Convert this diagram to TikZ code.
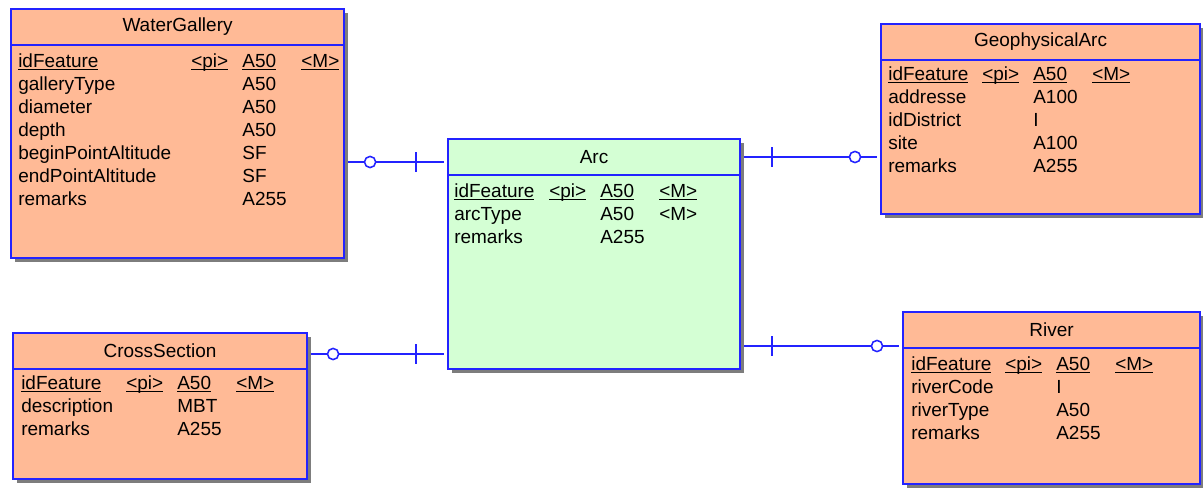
\documentclass[tikz,border=0pt]{standalone}
\usepackage{fontspec}
\setmainfont{Liberation Sans}
\usepackage{xcolor}
\usetikzlibrary{positioning,shadows,decorations.markings}

\definecolor{erblue}{RGB}{35,35,255}
\definecolor{ersalmon}{RGB}{255,186,150}
\definecolor{ergreen}{RGB}{212,255,212}
\definecolor{ershadow}{RGB}{125,125,125}

\newcommand{\ulk}[1]{\underline{\smash{#1}}}

\begin{document}
\begin{tikzpicture}[x=0.025cm, y=-0.025cm,
  font=\fontsize{13.5}{16.4}\selectfont,
  entity/.style={draw=erblue, line width=1.4pt, fill=#1, anchor=north west,
                 inner sep=0pt, outer sep=0pt,
                 drop shadow={shadow xshift=0.09cm, shadow yshift=-0.09cm, fill=ershadow, opacity=1}},
  head/.style={minimum height=0.875cm, inner sep=0pt},
  attrs/.style={anchor=north west, inner sep=0pt},
  hline/.style={draw=erblue, line width=1.4pt},
  rel/.style={draw=erblue, line width=1.1pt, shorten <=0.11cm, shorten >=0.11cm,
              postaction={decorate}, decoration={markings,
                mark=at position 0.65cm with {\draw[erblue, line width=1.1pt, fill=white] (0cm,0cm) circle (0.14cm);},
                mark=at position -0.8cm with {\draw[erblue, line width=1.1pt, shorten <=0pt, shorten >=0pt] (0cm,-0.24cm) -- (0cm,0.24cm);}}}
]
  \useasboundingbox (0,0) rectangle (1203,487);

  % WaterGallery
  \node[entity=ersalmon, minimum width=8.325cm, minimum height=6.225cm] (wg) at (11,9) {};
  \node[head, below=0pt of wg.north] (wgt) {WaterGallery};
  \draw[hline] (wg.west |- wgt.south) -- (wg.east |- wgt.south);
  \node[attrs] (wga) at (18,51) {\begin{tabular}{@{}p{4.325cm}@{}p{1.275cm}@{}p{1.475cm}@{}l@{}}
    \ulk{idFeature} & \ulk{<pi>} & \ulk{A50} & \ulk{<M>}\\
    galleryType & & A50 & \\
    diameter & & A50 & \\
    depth & & A50 & \\
    beginPointAltitude & & SF & \\
    endPointAltitude & & SF & \\
    remarks & & A255 & \\
  \end{tabular}};

  % GeophysicalArc
  \node[entity=ersalmon, minimum width=7.975cm, minimum height=4.75cm] (ga) at (881,24) {};
  \node[head, below=0pt of ga.north] (gat) {GeophysicalArc};
  \draw[hline] (ga.west |- gat.south) -- (ga.east |- gat.south);
  \node[attrs] (gaa) at (888,64) {\begin{tabular}{@{}p{2.35cm}@{}p{1.275cm}@{}p{1.475cm}@{}l@{}}
    \ulk{idFeature} & \ulk{<pi>} & \ulk{A50} & \ulk{<M>}\\
    addresse & & A100 & \\
    idDistrict & & I & \\
    site & & A100 & \\
    remarks & & A255 & \\
  \end{tabular}};

  % Arc
  \node[entity=ergreen, minimum width=7.3cm, minimum height=5.75cm] (arc) at (448,139) {};
  \node[head, below=0pt of arc.north] (arct) {Arc};
  \draw[hline] (arc.west |- arct.south) -- (arc.east |- arct.south);
  \node[attrs] (arca) at (454,181) {\begin{tabular}{@{}p{2.375cm}@{}p{1.275cm}@{}p{1.475cm}@{}l@{}}
    \ulk{idFeature} & \ulk{<pi>} & \ulk{A50} & \ulk{<M>}\\
    arcType & & A50 & <M>\\
    remarks & & A255 & \\
  \end{tabular}};

  % CrossSection
  \node[entity=ersalmon, minimum width=7.35cm, minimum height=3.65cm] (cs) at (13,333) {};
  \node[head, below=0pt of cs.north] (cst) {CrossSection};
  \draw[hline] (cs.west |- cst.south) -- (cs.east |- cst.south);
  \node[attrs] (csa) at (21,373) {\begin{tabular}{@{}p{2.625cm}@{}p{1.275cm}@{}p{1.475cm}@{}l@{}}
    \ulk{idFeature} & \ulk{<pi>} & \ulk{A50} & \ulk{<M>}\\
    description & & MBT & \\
    remarks & & A255 & \\
  \end{tabular}};

  % River
  \node[entity=ersalmon, minimum width=7.425cm, minimum height=4.3cm] (rv) at (903,312) {};
  \node[head, below=0pt of rv.north] (rvt) {River};
  \draw[hline] (rv.west |- rvt.south) -- (rv.east |- rvt.south);
  \node[attrs] (rva) at (911,354) {\begin{tabular}{@{}p{2.35cm}@{}p{1.275cm}@{}p{1.475cm}@{}l@{}}
    \ulk{idFeature} & \ulk{<pi>} & \ulk{A50} & \ulk{<M>}\\
    riverCode & & I & \\
    riverType & & A50 & \\
    remarks & & A255 & \\
  \end{tabular}};

  % relations
  \coordinate (awg) at (448,162);
  \coordinate (acs) at (448,354);
  \coordinate (aga) at (740,157);
  \coordinate (arv) at (740,346);
  \draw[rel] (wg.east |- awg) -- (awg);
  \draw[rel] (cs.east |- acs) -- (acs);
  \draw[rel] (ga.west |- aga) -- (aga);
  \draw[rel] (rv.west |- arv) -- (arv);
\end{tikzpicture}
\end{document}
